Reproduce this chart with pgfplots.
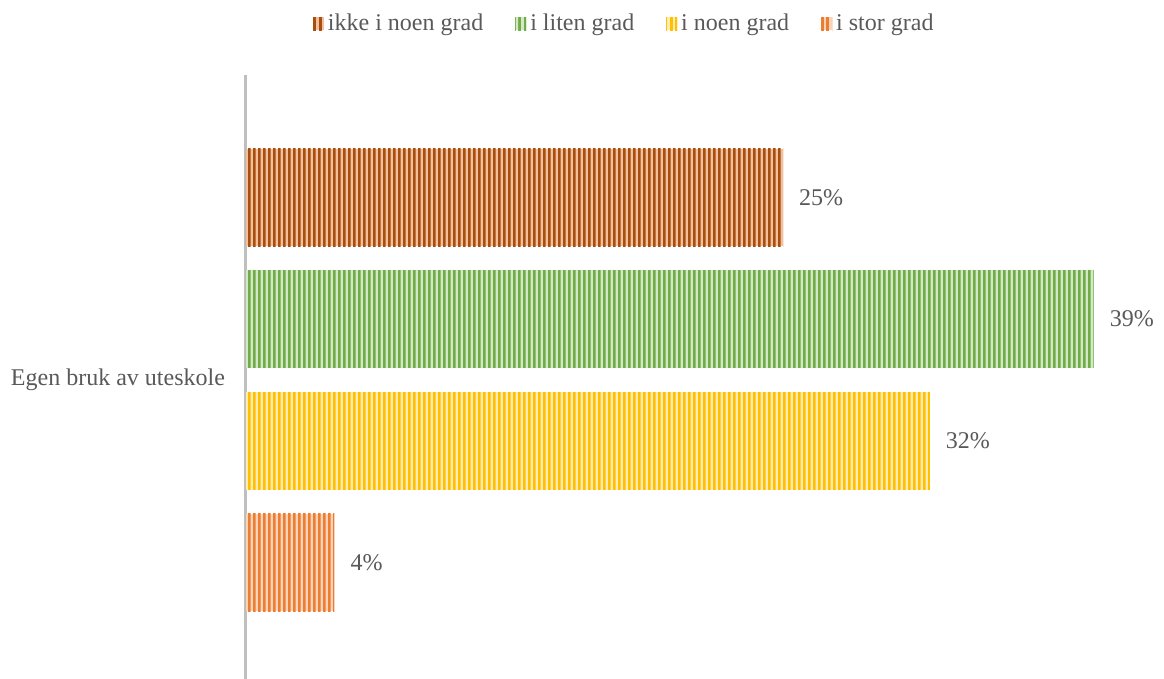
\documentclass[border=0pt]{standalone}
\usepackage{pgfplots}
\pgfplotsset{compat=1.18}
\usepackage{fontspec}
\setmainfont{Liberation Serif}
\usetikzlibrary{patterns.meta}
\definecolor{c1d}{HTML}{A84E0E}
\definecolor{c1l}{HTML}{F2C09C}
\definecolor{c2d}{HTML}{70AD47}
\definecolor{c2l}{HTML}{D3E8C6}
\definecolor{c3d}{HTML}{FFC000}
\definecolor{c3l}{HTML}{FFEBB5}
\definecolor{c4d}{HTML}{ED7D31}
\definecolor{c4l}{HTML}{F9D4BA}
\definecolor{txt}{HTML}{595959}
\definecolor{axl}{HTML}{BFBFBF}
\tikzdeclarepattern{
  name=vstripes,
  type=uncolored,
  bounding box={(0pt,0pt) and (2.7pt,40pt)},
  tile size={(2.7pt,40pt)},
  code={\fill (0pt,-1pt) rectangle (1.45pt,41pt);}
}
\pgfplotsset{
  mybar/.style args={#1/#2}{xbar, bar width=0.8, bar shift=0pt, draw=none,
    fill=#2, postaction={pattern=vstripes, pattern color=#1},
    legend image code/.code={\path[fill=#2, postaction={pattern=vstripes, pattern color=#1}] (0pt,-3.3pt) rectangle (5.4pt,3.3pt);}},
}
\begin{document}
\begin{tikzpicture}
\useasboundingbox (0,0) rectangle (582pt,339.5pt);
\begin{axis}[
  at={(123pt,0pt)}, anchor=south west,
  scale only axis, width=431.4pt, height=302pt,
  xmin=0, xmax=40, ymin=-2.455, ymax=2.505,
  hide x axis,
  axis y line*=left,
  y axis line style={draw=axl, line width=1.5pt, -},
  ytick={0}, yticklabels={Egen bruk av uteskole},
  major tick length=0pt,
  yticklabel style={xshift=-7pt},
  clip=false,
  font=\fontsize{12}{14}\selectfont,
  every tick label/.append style={text=txt},
  point meta=explicit symbolic,
  nodes near coords={\pgfplotspointmeta},
  nodes near coords style={text=txt, anchor=west, xshift=4.5pt, font=\fontsize{12}{14}\selectfont},
  legend columns=4,
  legend style={at={(0.439,1.085)}, anchor=center, draw=none, fill=none,
    font=\fontsize{12}{14}\selectfont, text=txt,
    /tikz/every even column/.append style={column sep=14.5pt},
    /tikz/every odd column/.append style={column sep=0.6pt},
    nodes={inner sep=1.5pt}},
]
\addplot[mybar=c1d/c1l] coordinates {(24.9,1.5) [25\%]};
\addlegendentry{ikke i noen grad}
\addplot[mybar=c2d/c2l] coordinates {(39.3,0.5) [39\%]};
\addlegendentry{i liten grad}
\addplot[mybar=c3d/c3l] coordinates {(31.7,-0.5) [32\%]};
\addlegendentry{i noen grad}
\addplot[mybar=c4d/c4l] coordinates {(4.1,-1.5) [4\%]};
\addlegendentry{i stor grad}
\end{axis}
\end{tikzpicture}
\end{document}
